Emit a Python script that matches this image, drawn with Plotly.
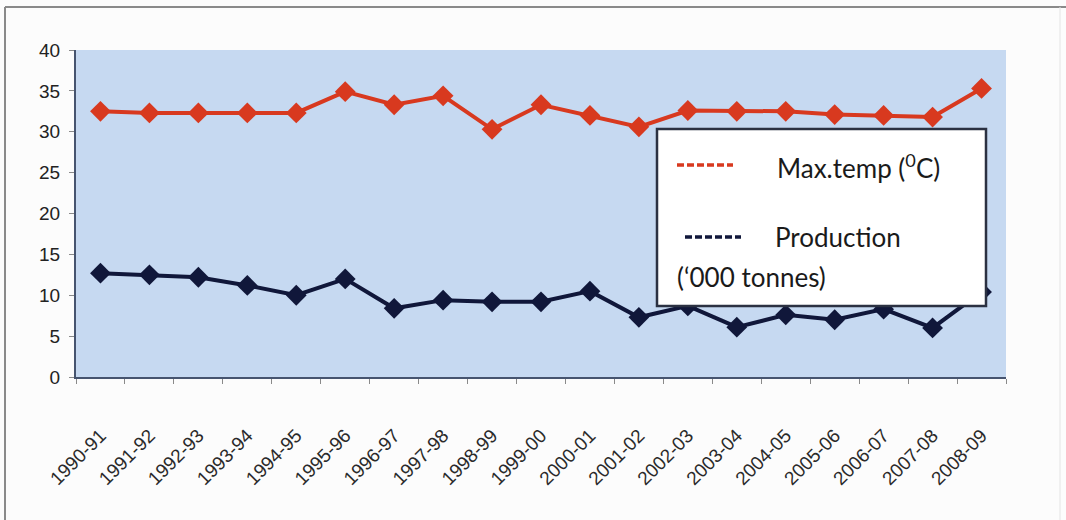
import plotly.graph_objects as go

years = ["1990-91", "1991-92", "1992-93", "1993-94", "1994-95", "1995-96", "1996-97",
         "1997-98", "1998-99", "1999-00", "2000-01", "2001-02", "2002-03", "2003-04",
         "2004-05", "2005-06", "2006-07", "2007-08", "2008-09"]
max_temp = [32.5, 32.3, 32.3, 32.3, 32.3, 34.9, 33.3, 34.4, 30.3, 33.3, 32.0, 30.6, 32.6,
            32.5, 32.5, 32.1, 32.0, 31.8, 35.3]
production = [12.7, 12.5, 12.2, 11.2, 10.0, 12.0, 8.4, 9.4, 9.2, 9.2, 10.5, 7.3, 8.7,
              6.1, 7.6, 7.0, 8.3, 6.0, 10.4]

RED = "#d8391f"
NAVY = "#10173a"

fig = go.Figure()
fig.add_trace(go.Scatter(x=years, y=max_temp, name="Max.temp (0C)", mode="lines+markers",
                         line=dict(color=RED, width=4),
                         marker=dict(symbol="diamond", size=16, color=RED)))
fig.add_trace(go.Scatter(x=years, y=production, name="Production ('000 tonnes)", mode="lines+markers",
                         line=dict(color=NAVY, width=4),
                         marker=dict(symbol="diamond", size=16, color=NAVY)))

L, R, T, B = 76, 60, 50, 143
W, H = 1066, 520
pw, ph = W - L - R, H - T - B


def px(x):
    return (x - L) / pw


def py(y):
    return (H - B - y) / ph


shapes = [
    # outer frame
    dict(type="line", xref="paper", yref="paper", x0=px(5), x1=px(1066), y0=py(7), y1=py(7),
         line=dict(color="#8a8a8a", width=2)),
    dict(type="line", xref="paper", yref="paper", x0=px(5), x1=px(5), y0=py(7), y1=py(525),
         line=dict(color="#8a8a8a", width=2)),
    dict(type="line", xref="paper", yref="paper", x0=px(1060), x1=px(1060), y0=py(7), y1=py(525),
         line=dict(color="#e4e4e4", width=1)),
    # legend box
    dict(type="rect", xref="paper", yref="paper", x0=px(657), x1=px(986), y0=py(129), y1=py(306),
         fillcolor="white", line=dict(color="#2b3142", width=2.5)),
    dict(type="line", xref="paper", yref="paper", x0=px(677), x1=px(733), y0=py(165), y1=py(165),
         line=dict(color=RED, width=3.5, dash="7px,3px")),
    dict(type="line", xref="paper", yref="paper", x0=px(685), x1=px(741), y0=py(237), y1=py(237),
         line=dict(color=NAVY, width=3.5, dash="7px,3px")),
]

legend_font = dict(family="Lato, Open Sans, sans-serif", size=26, color="#1a1a1a")
annotations = [
    dict(xref="paper", yref="paper", x=px(775), y=py(166), text="Max.temp (<sup>0</sup>C)",
         showarrow=False, xanchor="left", yanchor="middle", font=legend_font),
    dict(xref="paper", yref="paper", x=px(773), y=py(237), text="Production",
         showarrow=False, xanchor="left", yanchor="middle", font=legend_font),
    dict(xref="paper", yref="paper", x=px(675), y=py(277), text="(\u2018000 tonnes)",
         showarrow=False, xanchor="left", yanchor="middle", font=legend_font),
]

fig.update_layout(
    width=W, height=H,
    margin=dict(l=L, r=R, t=T, b=B, autoexpand=False),
    paper_bgcolor="#fcfcfc",
    plot_bgcolor="#c6d9f1",
    showlegend=False,
    shapes=shapes,
    annotations=annotations,
    font=dict(family="Liberation Sans, Arial, sans-serif", color="#222222"),
)
fig.update_xaxes(type="category", range=[-0.5, 18.5], tickangle=-45, tickson="boundaries",
                 ticks="outside", ticklen=5, tickcolor="#8a8a8a", tickwidth=1,
                 showline=True, linecolor="#46546f", linewidth=2, showgrid=False,
                 tickfont=dict(size=19, color="#2a2a2a"), ticklabelstandoff=38, zeroline=False)
fig.update_yaxes(range=[0, 40], dtick=5, ticks="outside", ticklen=5, tickcolor="#8a8a8a",
                 showline=True, linecolor="#46546f", linewidth=2, showgrid=False, zeroline=False,
                 tickfont=dict(size=19, color="#222222"), ticklabelstandoff=5)

fig.write_html("out.html")
